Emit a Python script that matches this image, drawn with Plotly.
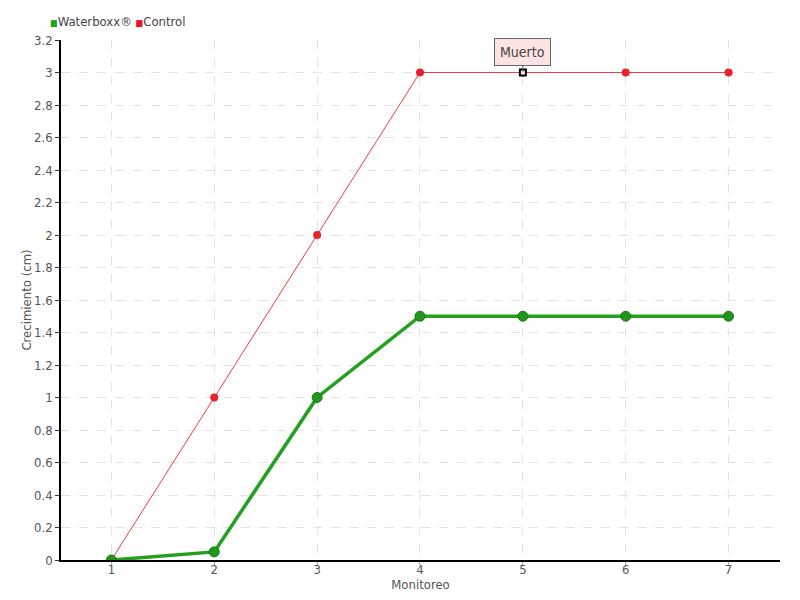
import plotly.graph_objects as go

monitoreo = [1, 2, 3, 4, 5, 6, 7]
waterboxx = [0, 0.05, 1, 1.5, 1.5, 1.5, 1.5]
control = [0, 1, 2, 3, 3, 3, 3]
y_ticks = [0, 0.2, 0.4, 0.6, 0.8, 1, 1.2, 1.4, 1.6, 1.8, 2, 2.2, 2.4, 2.6, 2.8, 3, 3.2]
muerto_x = [5]
muerto_y = [3]

FONT = "DejaVu Sans Condensed, DejaVu Sans, sans-serif"
GREEN = "#23a01e"
RED = "#f5384a"

fig = go.Figure()
fig.add_trace(go.Scatter(x=monitoreo, y=control, mode="lines+markers", name="Control",
                         line=dict(color=RED, width=1),
                         marker=dict(color="#e82030", size=8, line=dict(width=0))))
fig.add_trace(go.Scatter(x=monitoreo, y=waterboxx, mode="lines+markers", name="Waterboxx®",
                         line=dict(color=GREEN, width=3.5),
                         marker=dict(color="#22961c", size=10, line=dict(color="#1a7a16", width=1))))
fig.add_trace(go.Scatter(x=muerto_x, y=muerto_y, mode="markers", showlegend=False,
                         marker=dict(symbol="square", color="white", size=6,
                                     line=dict(color="black", width=2))))

# legend drawn as text with coloured squares
fig.add_annotation(xref="paper", yref="paper", x=-0.018, y=1.0, yshift=19,
                   xanchor="left", yanchor="middle", showarrow=False,
                   text=f"<span style='color:{GREEN};font-size:9px'>■</span>Waterboxx® "
                        f"<span style='color:#e8102a;font-size:9px'>■</span>Control",
                   font=dict(family=FONT, size=13, color="#444"))

fig.add_annotation(x=5, y=3, text="Muerto", showarrow=True, arrowhead=0, arrowcolor="#666",
                   arrowwidth=1, ax=0, ay=-21, bgcolor="#fde3e3", bordercolor="#666",
                   borderwidth=1, borderpad=5, font=dict(family=FONT, size=14, color="#444"))

fig.update_layout(
    width=792, height=592,
    paper_bgcolor="white", plot_bgcolor="white",
    margin=dict(l=53, r=20, t=32, b=40),
    font=dict(family=FONT, size=13, color="#555"),
    showlegend=False,
)
fig.update_xaxes(range=[0.51, 7.5], tickvals=monitoreo, showline=True, linecolor="black",
                 linewidth=1.5, ticks="outside", ticklen=3, tickcolor="#aaa",
                 ticklabelstandoff=-6,
                 showgrid=True, gridcolor="#e3e3e3", griddash="dash", zeroline=False,
                 automargin=False,
                 title=dict(text="Monitoreo", standoff=0, font=dict(size=13, color="#555")),
                 tickfont=dict(size=13, color="#555"))
fig.update_yaxes(range=[0, 3.2], tickvals=y_ticks, ticktext=[f"{v:g}" for v in y_ticks],
                 showline=True, linecolor="black", linewidth=1.5, ticks="outside",
                 ticklen=4, tickcolor="#333", showgrid=True, gridcolor="#e3e3e3",
                 griddash="dash", zeroline=False, automargin=False,
                 title=dict(text="Crecimiento (cm)", standoff=0, font=dict(size=13, color="#555")),
                 tickfont=dict(size=13, color="#555"))

fig.write_html("out.html")
